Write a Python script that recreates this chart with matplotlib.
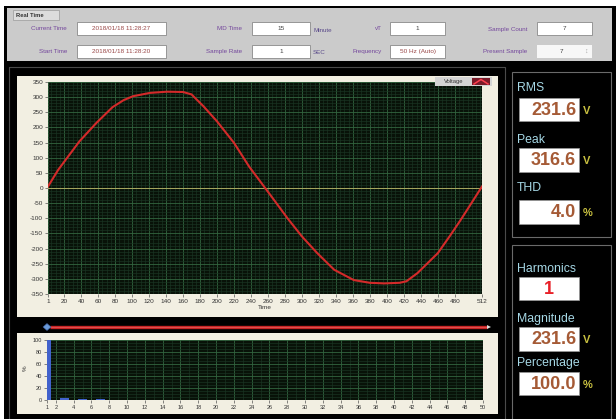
import matplotlib
matplotlib.use("Agg")
import matplotlib.pyplot as plt
from matplotlib.patches import Rectangle, Polygon
from matplotlib.ticker import MultipleLocator, FixedLocator

plt.rcParams["font.family"] = ["Liberation Sans", "DejaVu Sans"]
plt.rcParams["axes.unicode_minus"] = False

# ---- data ----
TIME = [1, 13, 38, 58, 77, 90, 101, 121, 141, 160, 170, 184, 200, 220, 238, 250, 267,
        283, 300, 318, 338, 361, 380, 397, 415, 423, 436, 460, 475, 487, 500, 512]
VOLTAGE = [5, 60, 154, 215, 267, 290, 303, 314, 318, 317, 309, 270, 220, 149, 70, 25, -39,
           -100, -160, -215, -270, -304, -313, -315, -313, -308, -281, -215, -155, -105, -48, 5]
TIME_TICKS = [1] + list(range(20, 481, 20)) + [512]
VOLT_TICKS = list(range(-350, 351, 50))

HARM_ORDER = [1, 3, 5, 7]
HARM_PCT = [100, 3, 2, 1]
HARM_TICKS = [1] + list(range(2, 51, 2))
PCT_TICKS = [0, 20, 40, 60, 80, 100]

ROW1 = [("Current Time", "2018/01/18 11:28:27"), ("MD Time", "15"), ("vT", "1"), ("Sample Count", "7")]
ROW2 = [("Start Time", "2018/01/18 11:28:20"), ("Sample Rate", "1"), ("Frequency", "50 Hz (Auto)"),
        ("Present Sample", "7")]
READOUT_TOP = [("RMS", "231.6", "V"), ("Peak", "316.6", "V"), ("THD", "4.0", "%")]
READOUT_BOT = [("Harmonics", "1", ""), ("Magnitude", "231.6", "V"), ("Percentage", "100.0", "%")]

W, H = 616, 419
fig = plt.figure(figsize=(W / 100, H / 100), dpi=100, facecolor="white")
bg = fig.add_axes([0, 0, 1, 1])
bg.set_xlim(0, W); bg.set_ylim(H, 0); bg.axis("off")

def rect(a, x0, y0, x1, y1, fc, ec="none", lw=0.6, z=1):
    a.add_patch(Rectangle((x0, y0), x1 - x0, y1 - y0, fc=fc, ec=ec, lw=lw, zorder=z))

CREAM = "#f2efe2"
LBL = "#74479c"

# frame + top panel
rect(bg, 4, 6, W, H, "black")
rect(bg, 7, 8, 612, 61, "#cbcbcb", z=2)
rect(bg, 13, 10, 59, 20, "#dcdcdc", "#9a9a9a", 0.5, z=3)
bg.text(16, 15.5, "Real Time", fontsize=4.2, fontweight="bold", color="#333", va="center", zorder=4)

label_right = [67, 242, 382, 527]
box_x = [(77, 166), (252, 310), (390, 445), (537, 592)]
for row, yc in ((ROW1, 29), (ROW2, 51.5)):
    for (lab, val), lr, (bx0, bx1) in zip(row, label_right, box_x):
        bg.text(lr, yc, lab, fontsize=4.5, color=LBL, ha="right", va="center", zorder=4)
        plain = lab == "Present Sample"
        rect(bg, bx0, yc - 6.5, bx1, yc + 6.5, "#f7f7f7" if plain else "white",
             "none" if plain else "#8a8a8a", 0.6, z=3)
        vc = "#9a4848" if ("/" in val or "Hz" in val) else "#404040"
        bg.text((bx0 + bx1) / 2 - (3 if plain else 0), yc, val, fontsize=4.6, color=vc,
                ha="center", va="center", zorder=4)
        if plain:
            bg.text(bx1 - 6, yc, "\u2195", fontsize=5, color="#aaa", ha="center", va="center", zorder=4)
bg.text(313, 31, "Minute", fontsize=4.5, color="#5a4a8a", va="center", zorder=4)
bg.text(313, 53, "SEC", fontsize=4.5, color="#5a4a8a", va="center", zorder=4)

# chart group frame, cream panels
rect(bg, 9, 67, 505, 425, "none", "#4a4a4a", 0.8, z=2)
rect(bg, 17, 76, 498, 317, CREAM, z=2)
rect(bg, 17, 333, 498, 414, CREAM, z=2)

# slider
bg.plot([50, 487], [327, 327], color="#c82424", lw=2.4, solid_capstyle="butt", zorder=3)
bg.plot([50, 487], [326.6, 326.6], color="#e86060", lw=0.5, zorder=3)
bg.add_patch(Polygon([[43, 327], [47, 323.5], [51, 327], [47, 330.5]], closed=True,
                     fc="#6a9ad8", ec="#3a5a9a", lw=0.4, zorder=4))
bg.add_patch(Polygon([[487, 325], [491, 327], [487, 329]], closed=True, fc="#dddddd", zorder=4))

# right readouts
rect(bg, 512, 72, 611, 237, "black", "#6a6a6a", 0.8, z=2)
rect(bg, 512, 245, 611, 425, "black", "#6a6a6a", 0.8, z=2)

def readout(items, ys):
    for (lab, val, unit), (yl, yb0, yb1) in zip(items, ys):
        bg.text(517, yl, lab, fontsize=8.8, color="#a6d8e6", va="center", zorder=4)
        rect(bg, 519, yb0, 579, yb1, "white", "#9a9a9a", 0.5, z=3)
        if lab == "Harmonics":
            bg.text(549, (yb0 + yb1) / 2 + 0.5, val, fontsize=13, fontweight="bold", color="#e82028",
                    ha="center", va="center", zorder=4)
        else:
            bg.text(576, (yb0 + yb1) / 2 + 0.5, val, fontsize=13, fontweight="bold", color="#a55a35",
                    ha="right", va="center", zorder=4)
        if unit:
            bg.text(583, (yb0 + yb1) / 2 + 1, unit, fontsize=8, fontweight="bold", color="#c8c040",
                    va="center", zorder=4)

readout(READOUT_TOP, [(88, 98, 121), (140, 148, 172), (188, 200, 224)])
readout(READOUT_BOT, [(269, 277, 300), (319, 327, 351), (363, 372, 395)])

# ---- main waveform chart ----
PLOT_BG = "#081208"
MAJ, MIN = "#33653f", "#1a3624"

def style(ax, fs):
    ax.set_facecolor(PLOT_BG)
    for s in ax.spines.values():
        s.set_visible(False)
    ax.tick_params(which="major", length=2, width=0.5, color="#555", labelsize=fs, labelcolor="#333", pad=1.5)
    ax.tick_params(which="minor", length=0)
    ax.grid(True, which="major", color=MAJ, lw=0.6)
    ax.grid(True, which="minor", color=MIN, lw=0.45)
    ax.set_axisbelow(True)

ax = fig.add_axes([48 / W, 1 - 294 / H, (482 - 48) / W, (294 - 82) / H])
style(ax, 4.6)
ax.set_xlim(1, 512); ax.set_ylim(-350, 350)
ax.xaxis.set_major_locator(FixedLocator(TIME_TICKS))
ax.yaxis.set_major_locator(FixedLocator(VOLT_TICKS))
ax.xaxis.set_minor_locator(MultipleLocator(5))
ax.yaxis.set_minor_locator(MultipleLocator(10))
ax.axhline(0, color="#a8a860", lw=0.7, zorder=2)
ax.plot(TIME, VOLTAGE, color="#d42a2a", lw=1.5, zorder=3)
ax.set_xlabel("Time", fontsize=4.6, color="#333", labelpad=1)

# ---- harmonic bar chart ----
ax2 = fig.add_axes([47 / W, 1 - 400 / H, (483 - 47) / W, (400 - 340) / H])
style(ax2, 4)
ax2.set_xlim(1, 50); ax2.set_ylim(0, 100)
ax2.xaxis.set_major_locator(FixedLocator(HARM_TICKS))
ax2.yaxis.set_major_locator(FixedLocator(PCT_TICKS))
ax2.xaxis.set_minor_locator(MultipleLocator(1))
ax2.yaxis.set_minor_locator(MultipleLocator(5))
ax2.bar(HARM_ORDER, HARM_PCT, width=1.0, color="#4262cc", zorder=3)
bg.text(25, 368, "%", fontsize=4.5, color="#333", rotation=90, ha="center", va="center", zorder=4)

# ---- legend overlay (sits on top of the plot area) ----
top = fig.add_axes([0, 0, 1, 1])
top.set_xlim(0, W); top.set_ylim(H, 0); top.axis("off"); top.patch.set_alpha(0)
rect(top, 435, 77, 492, 86, "#d4d4d4", z=5)
top.text(454, 81.7, "Voltage", fontsize=4.2, color="#333", ha="center", va="center", zorder=6)
rect(top, 472, 78, 490, 85, "#7a1a28", z=6)
top.plot([474, 481, 488], [84, 79.5, 84], color="#ff4050", lw=1.1, zorder=7)

fig.savefig("out.png", dpi=100, facecolor="white")
